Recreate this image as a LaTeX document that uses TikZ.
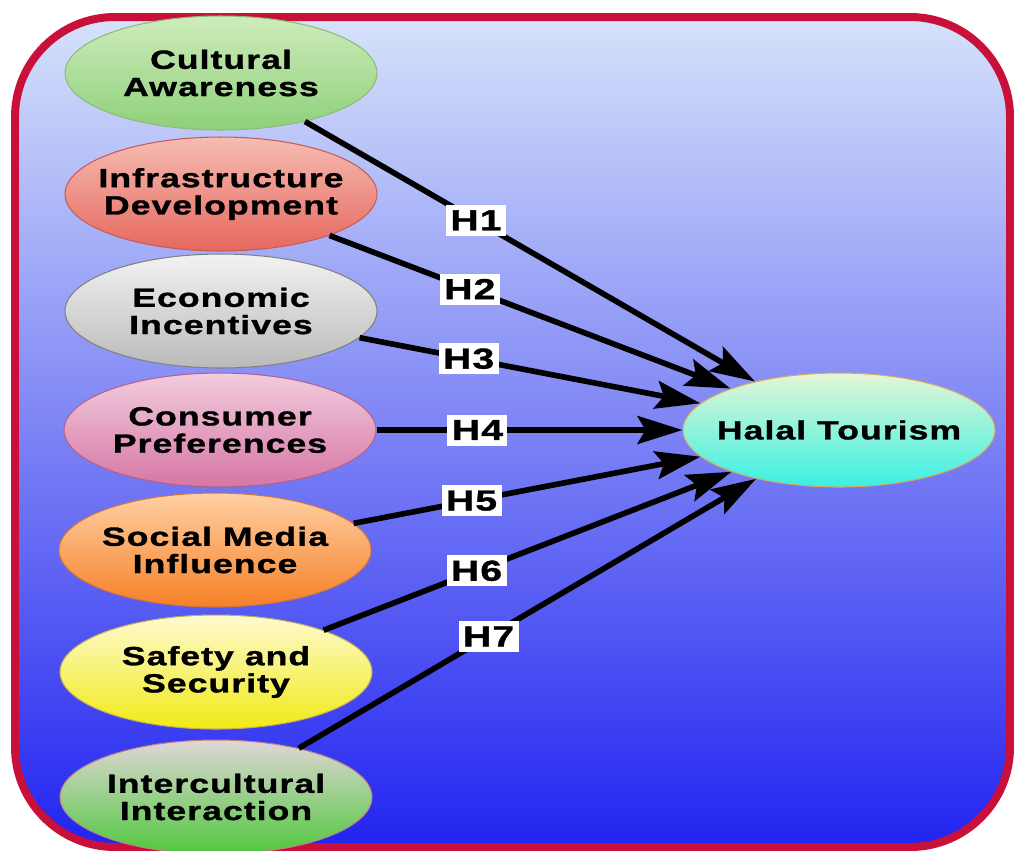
\documentclass[tikz,border=0pt]{standalone}
\usepackage{fontspec}
\usetikzlibrary{shapes.geometric, arrows.meta}
\newfontfamily\boxfont{Liberation Sans}[FakeStretch=1.35,LetterSpace=4,FakeBold=1.2]

\definecolor{framered}{RGB}{200,16,58}
\definecolor{bgtop}{RGB}{214,226,250}
\definecolor{bgbot}{RGB}{34,36,240}
% fills of the factors, light top / dark bottom
\definecolor{caT}{RGB}{206,236,188}\definecolor{caB}{RGB}{142,208,122}\definecolor{caD}{RGB}{140,188,118}
\definecolor{idT}{RGB}{246,188,178}\definecolor{idB}{RGB}{230,104,94}\definecolor{idD}{RGB}{198,92,90}
\definecolor{eiT}{RGB}{242,242,242}\definecolor{eiB}{RGB}{186,186,186}\definecolor{eiD}{RGB}{128,128,128}
\definecolor{cpT}{RGB}{242,204,222}\definecolor{cpB}{RGB}{214,118,164}\definecolor{cpD}{RGB}{178,98,138}
\definecolor{smT}{RGB}{255,208,164}\definecolor{smB}{RGB}{246,128,38}\definecolor{smD}{RGB}{208,118,62}
\definecolor{ssT}{RGB}{255,250,208}\definecolor{ssB}{RGB}{240,234,22}\definecolor{ssD}{RGB}{198,178,82}
\definecolor{iiT}{RGB}{224,214,214}\definecolor{iiB}{RGB}{80,200,62}\definecolor{iiD}{RGB}{190,130,130}
\definecolor{htT}{RGB}{228,246,214}\definecolor{htB}{RGB}{58,240,226}\definecolor{htD}{RGB}{218,168,92}

\tikzset{
  factor/.style={ellipse, minimum width=6.24cm, minimum height=2.28cm, line width=0.6pt},
  factortext/.style={font=\boxfont\bfseries\fontsize{15}{15.5}\selectfont, align=center, inner sep=0pt},
  hyp/.style={line width=3.2pt, -{Stealth[length=0.9cm,width=0.56cm,inset=0.16cm]}},
  hlabel/.style={fill=white, inner sep=0pt, minimum width=1.2cm, minimum height=0.62cm,
    font=\boxfont\bfseries\fontsize{16.5}{18}\selectfont}
}

\begin{document}
\begin{tikzpicture}[x=0.02cm, y=-0.02cm]
\useasboundingbox (0,0) rectangle (1014,850);

% backdrop
\draw[line width=0.16cm, draw=framered, rounded corners=2cm, top color=bgtop, bottom color=bgbot]
  (15,17) rectangle (1010,847);

% factors
\node[factor, draw=caD, top color=caT, bottom color=caB, label={[factortext]center:Cultural\\Awareness}] (ca) at (221,73) {};
\node[factor, draw=idD, top color=idT, bottom color=idB, label={[factortext]center:Infrastructure\\Development}] (id) at (221,194) {};
\node[factor, draw=eiD, top color=eiT, bottom color=eiB, label={[factortext]center:Economic\\Incentives}] (ei) at (221,311) {};
\node[factor, draw=cpD, top color=cpT, bottom color=cpB, label={[factortext]center:Consumer\\Preferences}] (cp) at (220,430) {};
\node[factor, draw=smD, top color=smT, bottom color=smB, label={[factortext]center:Social Media\\Influence}] (sm) at (215,550) {};
\node[factor, draw=ssD, top color=ssT, bottom color=ssB, label={[factortext]center:Safety and\\Security}] (ss) at (216,672) {};
\node[factor, draw=iiD, top color=iiT, bottom color=iiB, label={[factortext]center:Intercultural\\Interaction}] (ii) at (216,797) {};

\node[factor, draw=htD, top color=htT, bottom color=htB, label={[factortext]center:Halal Tourism}] (ht) at (839,430) {};

% hypotheses
\draw[hyp] (ca) -- node[pos=.38, hlabel] {H1} (ht);
\draw[hyp] (id) -- node[pos=.35, hlabel] {H2} (ht);
\draw[hyp] (ei) -- node[pos=.32, hlabel] {H3} (ht);
\draw[hyp] (cp) -- node[pos=.33, hlabel] {H4} (ht);
\draw[hyp] (sm) -- node[pos=.34, hlabel] {H5} (ht);
\draw[hyp] (ss) -- node[pos=.375, hlabel] {H6} (ht);
\draw[hyp] (ii) -- node[pos=.415, hlabel] {H7} (ht);

\end{tikzpicture}
\end{document}
